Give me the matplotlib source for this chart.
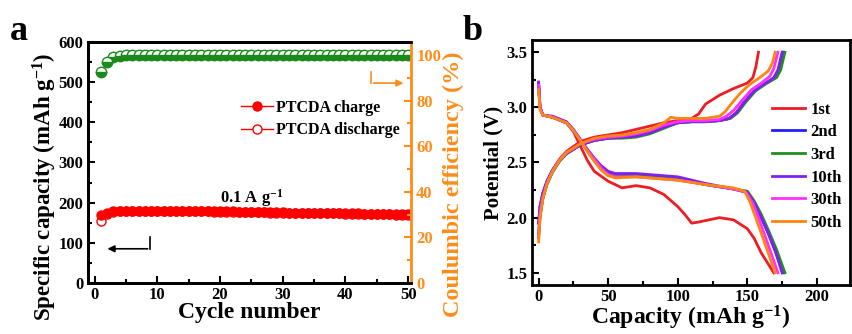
import matplotlib
matplotlib.use("Agg")
import matplotlib.pyplot as plt
from matplotlib.ticker import MultipleLocator

plt.rcParams["font.family"] = ["Liberation Serif", "DejaVu Serif"]
plt.rcParams["font.weight"] = "bold"
plt.rcParams["mathtext.fontset"] = "custom"
plt.rcParams["mathtext.rm"] = "Liberation Serif:bold"
plt.rcParams["mathtext.bf"] = "Liberation Serif:bold"
plt.rcParams["mathtext.default"] = "bf"

# ---------------- panel a data ----------------
cycles = list(range(1, 51))
charge = [169, 175, 178, 179, 180, 180, 180, 180, 180, 180,
          180, 180, 179, 179, 179, 179, 179, 178, 178, 178,
          178, 178, 177, 177, 177, 177, 176, 176, 176, 176,
          175, 175, 175, 175, 174, 174, 174, 174, 173, 173,
          173, 173, 172, 172, 172, 172, 171, 171, 171, 171]
discharge = [155, 171, 176, 178, 179, 179, 179, 179, 179, 179,
             179, 179, 179, 178, 178, 178, 178, 178, 177, 177,
             177, 177, 177, 176, 176, 176, 176, 175, 175, 175,
             175, 174, 174, 174, 174, 173, 173, 173, 173, 172,
             172, 172, 172, 171, 171, 171, 171, 170, 170, 170]
efficiency = [92.7, 97.1, 99.0, 99.8, 100.0, 100.0, 100.0, 100.0, 100.0, 100.0,
              100.0, 100.0, 100.0, 100.0, 100.0, 100.0, 100.0, 100.0, 100.0, 100.0,
              100.0, 100.0, 100.0, 100.0, 100.0, 100.0, 100.0, 100.0, 100.0, 100.0,
              100.0, 100.0, 100.0, 100.0, 100.0, 100.0, 100.0, 100.0, 100.0, 100.0,
              100.0, 100.0, 100.0, 100.0, 100.0, 100.0, 100.0, 100.0, 100.0, 100.0]

# ---------------- panel b data ----------------
labels_b = ["1st", "2nd", "3rd", "10th", "30th", "50th"]
colors_b = ["#ee1c24", "#1f1fff", "#1f8f1f", "#8020f0", "#ff30ff", "#ff8410"]

dis_x = {
    "1st": [0, 1, 3, 10, 20, 25, 30, 35, 40, 50, 60, 70, 80, 90, 100, 105, 110, 115, 130, 140, 150, 155, 160, 165, 169],
    "2nd": [0, 1, 3, 10, 20, 25, 30, 35, 40, 45, 50, 55, 70, 100, 120, 140, 150, 155, 160, 165, 170, 176],
    "3rd": [0, 1, 3, 10, 20, 25, 30, 35, 40, 45, 50, 55, 70, 100, 120, 140, 150, 155, 160, 165, 171, 177],
    "10th": [0, 1, 3, 10, 20, 25, 30, 35, 40, 45, 50, 55, 70, 100, 120, 140, 150, 155, 160, 165, 170, 175],
    "30th": [0, 1, 3, 10, 20, 25, 30, 35, 40, 45, 50, 55, 70, 100, 120, 140, 149, 154, 158, 162, 167, 172],
    "50th": [0, 1, 3, 10, 20, 25, 30, 35, 40, 45, 50, 55, 70, 100, 120, 140, 148, 152, 156, 160, 165, 170],
}
dis_y = {
    "1st": [3.2, 3.0, 2.93, 2.91, 2.86, 2.78, 2.65, 2.52, 2.42, 2.33, 2.27, 2.29, 2.27, 2.21, 2.10, 2.03, 1.95, 1.96, 2.0, 1.98, 1.90, 1.81, 1.68, 1.58, 1.50],
    "2nd": [3.22, 3.0, 2.93, 2.91, 2.86, 2.79, 2.70, 2.61, 2.53, 2.46, 2.41, 2.39, 2.39, 2.35, 2.30, 2.26, 2.23, 2.13, 2.0, 1.86, 1.70, 1.50],
    "3rd": [3.21, 3.0, 2.93, 2.91, 2.86, 2.79, 2.70, 2.61, 2.53, 2.46, 2.41, 2.38, 2.38, 2.35, 2.30, 2.26, 2.24, 2.15, 2.03, 1.89, 1.71, 1.50],
    "10th": [3.23, 3.0, 2.93, 2.92, 2.87, 2.80, 2.71, 2.62, 2.54, 2.47, 2.42, 2.40, 2.40, 2.37, 2.31, 2.26, 2.23, 2.13, 2.0, 1.86, 1.70, 1.50],
    "30th": [3.2, 3.0, 2.93, 2.91, 2.86, 2.79, 2.70, 2.61, 2.53, 2.45, 2.39, 2.37, 2.37, 2.34, 2.30, 2.26, 2.23, 2.13, 2.0, 1.86, 1.68, 1.50],
    "50th": [3.16, 2.98, 2.93, 2.91, 2.86, 2.79, 2.70, 2.60, 2.51, 2.43, 2.38, 2.36, 2.37, 2.34, 2.30, 2.27, 2.24, 2.14, 2.0, 1.86, 1.68, 1.50],
}

chg_x = {
    "1st": [0, 1, 3, 6, 10, 15, 20, 30, 40, 50, 60, 70, 80, 90, 100, 110, 115, 120, 130, 140, 150, 154, 156, 158],
    "2nd": [0, 1, 3, 6, 10, 15, 20, 30, 40, 50, 60, 70, 80, 90, 100, 110, 120, 130, 137, 142, 148, 155, 162, 170, 173, 176],
    "3rd": [0, 1, 3, 6, 10, 15, 20, 30, 40, 50, 60, 70, 80, 90, 100, 110, 120, 130, 138, 143, 149, 156, 163, 171, 174, 177],
    "10th": [0, 1, 3, 6, 10, 15, 20, 30, 40, 50, 60, 70, 80, 90, 100, 110, 120, 130, 137, 142, 148, 155, 162, 169, 172, 175],
    "30th": [0, 1, 3, 6, 10, 15, 20, 30, 40, 50, 60, 70, 80, 90, 100, 110, 120, 130, 135, 140, 146, 153, 160, 166, 169, 172],
    "50th": [0, 1, 3, 6, 10, 15, 20, 30, 40, 50, 60, 70, 80, 90, 95, 100, 110, 120, 130, 134, 139, 145, 152, 159, 165, 168, 170],
}
chg_y = {
    "1st": [1.82, 2.0, 2.18, 2.32, 2.43, 2.53, 2.60, 2.69, 2.73, 2.75, 2.77, 2.80, 2.83, 2.86, 2.88, 2.90, 2.94, 3.03, 3.11, 3.17, 3.22, 3.27, 3.36, 3.50],
    "2nd": [1.95, 2.10, 2.22, 2.33, 2.43, 2.52, 2.58, 2.66, 2.70, 2.72, 2.73, 2.74, 2.77, 2.82, 2.86, 2.87, 2.87, 2.88, 2.90, 2.95, 3.05, 3.15, 3.21, 3.27, 3.34, 3.50],
    "3rd": [1.85, 2.02, 2.17, 2.30, 2.41, 2.51, 2.58, 2.66, 2.70, 2.72, 2.72, 2.73, 2.76, 2.81, 2.86, 2.87, 2.87, 2.88, 2.90, 2.95, 3.05, 3.15, 3.21, 3.27, 3.34, 3.50],
    "10th": [1.95, 2.10, 2.22, 2.33, 2.43, 2.52, 2.58, 2.66, 2.70, 2.72, 2.73, 2.74, 2.77, 2.82, 2.86, 2.87, 2.87, 2.88, 2.90, 2.95, 3.05, 3.15, 3.21, 3.27, 3.34, 3.50],
    "30th": [1.85, 2.03, 2.18, 2.31, 2.42, 2.52, 2.59, 2.67, 2.71, 2.73, 2.74, 2.76, 2.79, 2.84, 2.87, 2.88, 2.88, 2.89, 2.92, 2.97, 3.06, 3.16, 3.22, 3.28, 3.35, 3.50],
    "50th": [1.78, 2.0, 2.17, 2.31, 2.42, 2.52, 2.59, 2.67, 2.72, 2.74, 2.75, 2.77, 2.80, 2.86, 2.91, 2.90, 2.90, 2.90, 2.92, 2.96, 3.04, 3.13, 3.21, 3.27, 3.33, 3.40, 3.50],
}

fig = plt.figure(figsize=(8.52, 3.34), dpi=100)

# ================= panel a =================
ax = fig.add_axes([0.103, 0.153, 0.379, 0.721])
ax2 = ax.twinx()
orange = "#ff8c1a"

ax.plot(cycles, charge, "-o", color="red", ms=6.5, lw=1, label="PTCDA charge", zorder=3)
ax.plot(cycles, discharge, "-o", color="red", ms=6.5, lw=1, mfc="white", label="PTCDA discharge", zorder=2)
ax2.plot(cycles, efficiency, "o", color="#1a8a1a", ms=7.5, fillstyle="bottom", mfc="#1a8a1a",
         markerfacecoloralt="white", mec="#1a8a1a", mew=1)

ax.set_xlim(-1.1, 50.4)
ax.set_ylim(0, 600)
ax2.set_ylim(0, 105.7)
ax.xaxis.set_major_locator(MultipleLocator(10))
ax.xaxis.set_minor_locator(MultipleLocator(5))
ax.yaxis.set_major_locator(MultipleLocator(100))
ax.yaxis.set_minor_locator(MultipleLocator(50))
ax2.yaxis.set_major_locator(MultipleLocator(20))
ax2.yaxis.set_minor_locator(MultipleLocator(10))

ax.tick_params(which="both", direction="in", width=1.5, labelsize=12, pad=3)
ax.tick_params(which="major", length=5)
ax.tick_params(which="minor", length=3)
ax.tick_params(axis="y", right=False)
ax2.tick_params(which="both", direction="in", width=1.5, labelsize=12, colors=orange, pad=4)
ax2.tick_params(which="major", length=5)
ax2.tick_params(which="minor", length=3)
for s in ["left", "top", "bottom"]:
    ax.spines[s].set_linewidth(2)
    ax2.spines[s].set_linewidth(2)
ax2.spines["right"].set_linewidth(2)
ax2.spines["right"].set_color(orange)
ax.spines["right"].set_visible(False)

ax.set_xlabel("Cycle number", fontsize=17, fontweight="bold", labelpad=-1)
ax.set_ylabel("Specific capacity (mAh g$^{-1}$)", fontsize=16.5, fontweight="bold")
ax.yaxis.set_label_coords(-0.09, 0.40)
ax2.set_ylabel("Coulumbic efficiency (%)", fontsize=17.5, fontweight="bold", color=orange)
ax2.yaxis.set_label_coords(1.10, 0.41)

leg = ax.legend(loc="center left", bbox_to_anchor=(0.43, 0.68), frameon=False,
                fontsize=11.5, handlelength=2.0, handletextpad=0.2, labelspacing=0.4)

ax.text(25, 212, "0.1 A g$^{-1}$", ha="center", va="center", fontsize=12)

# arrows
ax.plot([8.8, 8.8], [114, 85], color="black", lw=1.2)
ax.annotate("", xy=(1.6, 85), xytext=(8.9, 85),
            arrowprops=dict(arrowstyle="-|>", color="black", lw=1.2, mutation_scale=10))
ax2.plot([44.1, 44.1], [92.5, 87.7], color=orange, lw=1.2)
ax2.annotate("", xy=(49.7, 87.7), xytext=(44.0, 87.7),
             arrowprops=dict(arrowstyle="-|>", color=orange, lw=1.2, mutation_scale=10))

fig.text(0.012, 0.905, "a", fontsize=26, fontweight="bold", ha="left", va="center")

# ================= panel b =================
bx = fig.add_axes([0.624, 0.147, 0.374, 0.733])
for lab, col in zip(labels_b, colors_b):
    bx.plot(dis_x[lab], dis_y[lab], color=col, lw=2)
    bx.plot(chg_x[lab], chg_y[lab], color=col, lw=2, label=lab)

bx.set_xlim(-5, 224)
bx.set_ylim(1.39, 3.61)
bx.xaxis.set_major_locator(MultipleLocator(50))
bx.xaxis.set_minor_locator(MultipleLocator(25))
bx.yaxis.set_major_locator(MultipleLocator(0.5))
bx.yaxis.set_minor_locator(MultipleLocator(0.25))
bx.tick_params(which="both", direction="in", width=1.5, labelsize=12, top=False, right=False, pad=3)
bx.tick_params(which="major", length=5)
bx.tick_params(which="minor", length=3)
for s in bx.spines.values():
    s.set_linewidth(2)
bx.set_xlabel("Capacity (mAh g$^{-1}$)", fontsize=17, fontweight="bold", labelpad=-1)
bx.set_ylabel("Potential (V)", fontsize=15, fontweight="bold", labelpad=2)
bx.legend(loc="upper right", bbox_to_anchor=(1.02, 0.81), frameon=False, fontsize=12,
          handlelength=2.0, handletextpad=0.3, labelspacing=0.4)

fig.text(0.543, 0.905, "b", fontsize=26, fontweight="bold", ha="left", va="center")

fig.savefig("out.png", dpi=100)
